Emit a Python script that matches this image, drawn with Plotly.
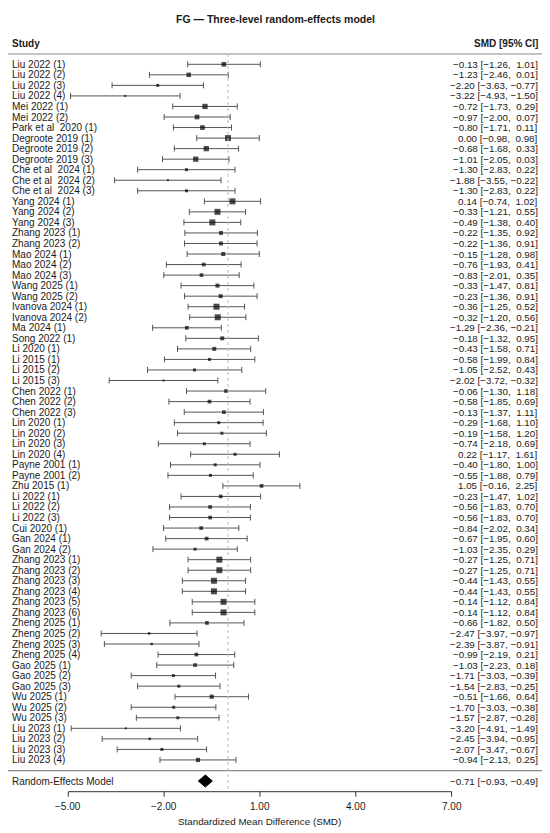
import plotly.graph_objects as go

studies = ["Liu 2022 (1)", "Liu 2022 (2)", "Liu 2022 (3)", "Liu 2022 (4)", "Mei 2022 (1)", "Mei 2022 (2)",
           "Park et al  2020 (1)", "Degroote 2019 (1)", "Degroote 2019 (2)", "Degroote 2019 (3)",
           "Che et al  2024 (1)", "Che et al  2024 (2)", "Che et al  2024 (3)", "Yang 2024 (1)", "Yang 2024 (2)",
           "Yang 2024 (3)", "Zhang 2023 (1)", "Zhang 2023 (2)", "Mao 2024 (1)", "Mao 2024 (2)", "Mao 2024 (3)",
           "Wang 2025 (1)", "Wang 2025 (2)", "Ivanova 2024 (1)", "Ivanova 2024 (2)", "Ma 2024 (1)", "Song 2022 (1)",
           "Li 2020 (1)", "Li 2015 (1)", "Li 2015 (2)", "Li 2015 (3)", "Chen 2022 (1)", "Chen 2022 (2)",
           "Chen 2022 (3)", "Lin 2020 (1)", "Lin 2020 (2)", "Lin 2020 (3)", "Lin 2020 (4)", "Payne 2001 (1)",
           "Payne 2001 (2)", "Zhu 2015 (1)", "Li 2022 (1)", "Li 2022 (2)", "Li 2022 (3)", "Cui 2020 (1)",
           "Gan 2024 (1)", "Gan 2024 (2)", "Zhang 2023 (1)", "Zhang 2023 (2)", "Zhang 2023 (3)", "Zhang 2023 (4)",
           "Zhang 2023 (5)", "Zhang 2023 (6)", "Zheng 2025 (1)", "Zheng 2025 (2)", "Zheng 2025 (3)",
           "Zheng 2025 (4)", "Gao 2025 (1)", "Gao 2025 (2)", "Gao 2025 (3)", "Wu 2025 (1)", "Wu 2025 (2)",
           "Wu 2025 (3)", "Liu 2023 (1)", "Liu 2023 (2)", "Liu 2023 (3)", "Liu 2023 (4)"]

smd = [-0.13, -1.23, -2.20, -3.22, -0.72, -0.97, -0.80, 0.00, -0.68, -1.01,
       -1.30, -1.88, -1.30, 0.14, -0.33, -0.49, -0.22, -0.22, -0.15, -0.76, -0.83,
       -0.33, -0.23, -0.36, -0.32, -1.29, -0.18, -0.43, -0.58, -1.05, -2.02,
       -0.06, -0.58, -0.13, -0.29, -0.19, -0.74, 0.22, -0.40, -0.55, 1.05,
       -0.23, -0.56, -0.56, -0.84, -0.67, -1.03, -0.27, -0.27, -0.44, -0.44,
       -0.14, -0.14, -0.66, -2.47, -2.39, -0.99, -1.03, -1.71, -1.54, -0.51,
       -1.70, -1.57, -3.20, -2.45, -2.07, -0.94]

ci_low = [-1.26, -2.46, -3.63, -4.93, -1.73, -2.00, -1.71, -0.98, -1.68, -2.05,
          -2.83, -3.55, -2.83, -0.74, -1.21, -1.38, -1.35, -1.36, -1.28, -1.93, -2.01,
          -1.47, -1.36, -1.25, -1.20, -2.36, -1.32, -1.58, -1.99, -2.52, -3.72,
          -1.30, -1.85, -1.37, -1.68, -1.58, -2.18, -1.17, -1.80, -1.88, -0.16,
          -1.47, -1.83, -1.83, -2.02, -1.95, -2.35, -1.25, -1.25, -1.43, -1.43,
          -1.12, -1.12, -1.82, -3.97, -3.87, -2.19, -2.23, -3.03, -2.83, -1.66,
          -3.03, -2.87, -4.91, -3.94, -3.47, -2.13]

ci_high = [1.01, 0.01, -0.77, -1.50, 0.29, 0.07, 0.11, 0.98, 0.33, 0.03,
           0.22, -0.22, 0.22, 1.02, 0.55, 0.40, 0.92, 0.91, 0.98, 0.41, 0.35,
           0.81, 0.91, 0.52, 0.56, -0.21, 0.95, 0.71, 0.84, 0.43, -0.32,
           1.18, 0.69, 1.11, 1.10, 1.20, 0.69, 1.61, 1.00, 0.79, 2.25,
           1.02, 0.70, 0.70, 0.34, 0.60, 0.29, 0.71, 0.71, 0.55, 0.55,
           0.84, 0.84, 0.50, -0.97, -0.91, 0.21, 0.18, -0.39, -0.25, 0.64,
           -0.38, -0.28, -1.49, -0.95, -0.67, 0.25]

# visual weight of each study's square
box_size = [4.7, 4.5, 3, 2, 5.3, 4.7, 4.7, 6, 5.3, 5.3,
            3, 2, 3, 6, 6, 6, 4, 4, 4, 3.7, 3.7,
            4, 4, 6, 6, 3.7, 4, 4, 3, 3, 2,
            3.7, 3.7, 3.7, 3, 3, 3, 3, 3, 3, 3.7,
            3.7, 3.7, 3.7, 3.7, 3.7, 3, 6, 6, 6, 6,
            6, 6, 3.7, 2.5, 2.5, 3.7, 3.7, 3, 3, 4.2,
            3, 3, 2, 2.5, 3, 4.2]

re_label = "Random-Effects Model"
re_est, re_low, re_high = -0.71, -0.93, -0.49

x_ticks = [-5, -2, 1, 4, 7]
x_title = "Standardized Mean Difference (SMD)"
title = "FG — Three-level random-effects model"

PAGE_OFF = 8           # the page body margin that shifts the figure
W, H = 550 - PAGE_OFF, 833 - PAGE_OFF
PX_PER_UNIT = 31.94
XM5_PX = 68.3 - PAGE_OFF          # pixel of x=-5 inside the figure
ROW0_PX, ROW_PX = 64.3 - PAGE_OFF, 10.54
xmin = -5 - XM5_PX / PX_PER_UNIT
xmax = xmin + W / PX_PER_UNIT
ymin = 1 - ROW0_PX / ROW_PX
ymax = 1 + (H - ROW0_PX) / ROW_PX


def row_of_px(px):
    """page pixel (y) -> row coordinate"""
    return 1 + (px - PAGE_OFF - ROW0_PX) / ROW_PX


def xp(px):
    """page pixel (x) -> paper coordinate"""
    return (px - PAGE_OFF) / W


def fmt(v):
    s = f"{abs(v):.2f}"
    return ("−" + s) if v < 0 else (" " + s)


def fmt_ci(e, lo, hi):
    return f"{fmt(e).strip() if e >= 0 else fmt(e)} [{fmt(lo).strip() if lo < 0 else fmt(lo)}, {fmt(hi)}]"


FONT = "Liberation Sans, Arial, sans-serif"
TXT = "#1a1a1a"
rows = list(range(1, len(studies) + 1))

fig = go.Figure()

fig.add_trace(go.Scatter(
    x=smd, y=rows, mode="markers",
    marker=dict(symbol="square", size=box_size, color="black", line=dict(width=0)),
    error_x=dict(type="data", symmetric=False,
                 array=[h - e for h, e in zip(ci_high, smd)],
                 arrayminus=[e - l for e, l in zip(smd, ci_low)],
                 color="#555555", thickness=1, width=3),
    hoverinfo="skip", showlegend=False,
))

re_row = row_of_px(781)
half_h = 6 / ROW_PX
fig.add_trace(go.Scatter(
    x=[re_low, re_est, re_high, re_est, re_low],
    y=[re_row, re_row - half_h, re_row, re_row + half_h, re_row],
    mode="lines", fill="toself", fillcolor="black", line=dict(color="black", width=1),
    hoverinfo="skip", showlegend=False,
))

shapes = []
header_row = row_of_px(54)
sep_row = row_of_px(770.7)
axis_row = row_of_px(791.7)
shapes.append(dict(type="line", xref="paper", yref="y", x0=0, x1=xp(547), y0=header_row, y1=header_row,
                   line=dict(color="#888888", width=1.2)))
shapes.append(dict(type="line", xref="paper", yref="y", x0=0, x1=xp(547), y0=sep_row, y1=sep_row,
                   line=dict(color="#888888", width=1.2)))
shapes.append(dict(type="line", xref="x", yref="y", x0=0, x1=0, y0=header_row, y1=axis_row,
                   line=dict(color="#bbbbbb", width=1, dash="dot")))
shapes.append(dict(type="line", xref="x", yref="y", x0=x_ticks[0], x1=x_ticks[-1], y0=axis_row, y1=axis_row,
                   line=dict(color="#333333", width=1)))
tick_len = 5 / ROW_PX
for t in x_ticks:
    shapes.append(dict(type="line", xref="x", yref="y", x0=t, x1=t, y0=axis_row, y1=axis_row + tick_len,
                       line=dict(color="#333333", width=1)))

ann = []
ann.append(dict(text=f"<b>{title}</b>", xref="paper", yref="y", x=xp(275), y=row_of_px(19),
                showarrow=False, xanchor="center", yanchor="middle", font=dict(size=10.5, color=TXT, family=FONT)))
ann.append(dict(text="<b>Study</b>", xref="paper", yref="y", x=xp(10), y=row_of_px(43.3),
                showarrow=False, xanchor="left", yanchor="middle", font=dict(size=10, color=TXT, family=FONT)))
ann.append(dict(text="<b>SMD [95% CI]</b>", xref="paper", yref="y", x=xp(540), y=row_of_px(43.3),
                showarrow=False, xanchor="right", yanchor="middle", font=dict(size=10, color=TXT, family=FONT)))
for r, name, e, lo, hi in zip(rows, studies, smd, ci_low, ci_high):
    ann.append(dict(text=name.replace("  ", "&nbsp;&nbsp;"), xref="paper", yref="y", x=xp(10), y=r,
                    showarrow=False, xanchor="left", yanchor="middle",
                    font=dict(size=10, color=TXT, family=FONT)))
    ann.append(dict(text=fmt_ci(e, lo, hi).replace(" ", "&nbsp;"), xref="paper", yref="y", x=xp(540), y=r,
                    showarrow=False, xanchor="right", yanchor="middle", font=dict(size=9.8, color=TXT, family=FONT)))
ann.append(dict(text=re_label, xref="paper", yref="y", x=xp(10), y=re_row, showarrow=False,
                xanchor="left", yanchor="middle", font=dict(size=10, color=TXT, family=FONT)))
ann.append(dict(text=fmt_ci(re_est, re_low, re_high).replace(" ", "&nbsp;"), xref="paper", yref="y", x=xp(540),
                y=re_row, showarrow=False, xanchor="right", yanchor="middle",
                font=dict(size=9.8, color=TXT, family=FONT)))
for t in x_ticks:
    lab = f"{t:.2f}".replace("-", "−")
    ann.append(dict(text=lab, xref="x", yref="y", x=t, y=row_of_px(806), showarrow=False,
                    xanchor="center", yanchor="middle", font=dict(size=10, color=TXT, family=FONT)))
ann.append(dict(text=x_title, xref="x", yref="y", x=1, y=row_of_px(821), showarrow=False,
                xanchor="center", yanchor="middle", font=dict(size=9.8, color=TXT, family=FONT)))

fig.update_layout(
    width=W, height=H, margin=dict(l=0, r=0, t=0, b=0),
    paper_bgcolor="white", plot_bgcolor="white",
    xaxis=dict(range=[xmin, xmax], visible=False, fixedrange=True),
    yaxis=dict(range=[ymax, ymin], visible=False, fixedrange=True),
    shapes=shapes, annotations=ann, showlegend=False,
)

fig.write_html("out.html")
